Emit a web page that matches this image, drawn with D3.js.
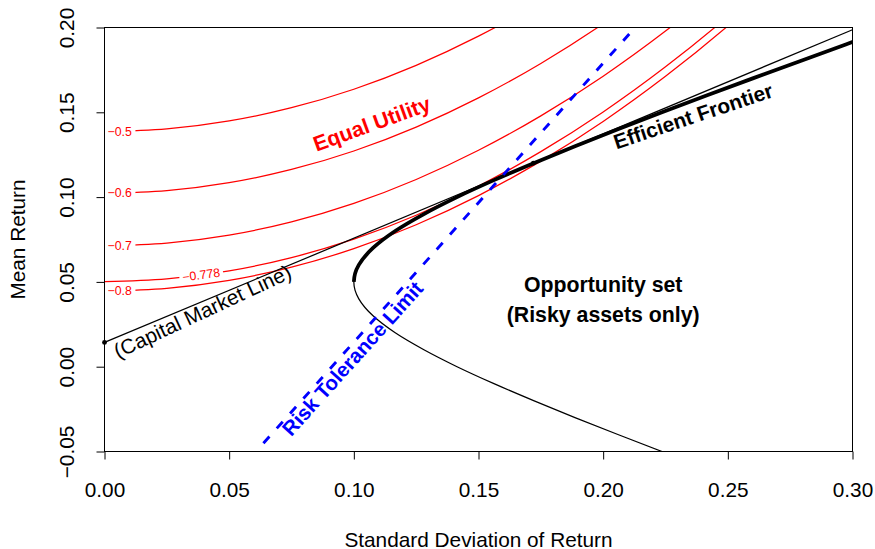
<!DOCTYPE html>
<html><head><meta charset="utf-8">
<script src="https://cdn.jsdelivr.net/npm/d3@7"></script>
<style>
html,body{margin:0;padding:0;background:#fff;}
svg{display:block;font-family:"Liberation Sans",Arial,Helvetica,sans-serif;}
</style></head><body>
<svg id="chart" width="875" height="549"></svg>
<script>
// ---------------- data ----------------
const xTicks = [0, 0.05, 0.10, 0.15, 0.20, 0.25, 0.30];
const yTicks = [-0.05, 0, 0.05, 0.10, 0.15, 0.20];

// boundary of the opportunity set (risky assets only)
const frontierMean = [-0.06,-0.05,-0.04,-0.03,-0.02,-0.01,0,0.01,0.02,0.03,0.04,0.045,0.05,0.055,0.06,0.07,0.08,0.09,0.10,0.11,0.12,0.13,0.14,0.15,0.16,0.17,0.18,0.19,0.20];
const frontierSD   = [0.2417,0.2236,0.2059,0.1887,0.1721,0.1562,0.1414,0.1281,0.1166,0.1077,0.1020,0.1005,0.1000,0.1005,0.1020,0.1077,0.1166,0.1281,0.1414,0.1562,0.1721,0.1887,0.2059,0.2236,0.2417,0.2600,0.2786,0.2973,0.3162];
const efficientStartMean = 0.05;

// equal-utility curves
const utilityLevels = ["\u22120.5", "\u22120.6", "\u22120.7", "\u22120.778", "\u22120.8"];
const utilitySD  = [0, 0.025, 0.05, 0.075, 0.10, 0.125, 0.15, 0.175, 0.20, 0.225, 0.25, 0.275];
const utilM050   = [0.1386,0.1402,0.1449,0.1527,0.1636,0.1777,0.1949,0.2152,0.2386,0.2652,0.2949,0.3277];
const utilM060   = [0.1022,0.1038,0.1085,0.1163,0.1272,0.1413,0.1585,0.1788,0.2022,0.2288,0.2585,0.2913];
const utilM070   = [0.0713,0.0729,0.0776,0.0854,0.0963,0.1104,0.1276,0.1479,0.1713,0.1979,0.2276,0.2604];
const utilM0778  = [0.0502,0.0518,0.0565,0.0643,0.0752,0.0893,0.1065,0.1268,0.1502,0.1768,0.2065,0.2393];
const utilM080   = [0.0446,0.0462,0.0509,0.0587,0.0696,0.0837,0.1009,0.1212,0.1446,0.1712,0.2009,0.2337];

// capital market line
const cmlSD   = [0, 0.30];
const cmlMean = [0.0143, 0.1987];
// marked points: risk-free asset and tangency portfolio
const pointSD   = [0, 0.172];
const pointMean = [0.0143, 0.12];
// risk tolerance limit
const riskSD   = [0.0608, 0.2112];
const riskMean = [-0.05, 0.1974];

// ---------------- drawing ----------------
const W = 875, H = 549;
const FS = 20.8, FSB = 21.3;
const x = d3.scaleLinear().domain([0, 0.3]).range([104.5, 852.5]);
const y = d3.scaleLinear().domain([-0.05, 0.2]).range([451.5, 27.5]);
const svg = d3.select("#chart");
const defs = svg.append("defs");

defs.append("clipPath").attr("id", "plotClip").append("rect")
  .attr("x", x(0)).attr("y", y(0.2))
  .attr("width", x(0.3) - x(0)).attr("height", y(-0.05) - y(0.2));

const utilSeries = [utilM050, utilM060, utilM070, utilM0778, utilM080];
const midLabelIdx = 3;           // the -0.778 curve has its label inside the plot
const midLabelSD = 0.0388;

// mask for the label gaps in the contour lines
const mask = defs.append("mask").attr("id", "gapMask")
  .attr("maskUnits", "userSpaceOnUse").attr("x", 0).attr("y", 0).attr("width", W).attr("height", H);
mask.append("rect").attr("width", W).attr("height", H).attr("fill", "#fff");
utilSeries.forEach((m, i) => {
  if (i === midLabelIdx) {
    const yy = m[0] + (m[1] - m[0]) * (midLabelSD / 0.025) * (midLabelSD / 0.025);
    mask.append("rect")
      .attr("transform", `translate(${x(midLabelSD)},${y(yy)}) rotate(-7.5)`)
      .attr("x", -22).attr("y", -6).attr("width", 44).attr("height", 12).attr("fill", "#000");
  } else {
    mask.append("rect").attr("x", x(0) - 1).attr("y", y(m[0]) - 6)
      .attr("width", x(0.0124) - x(0) + 1).attr("height", 12).attr("fill", "#000");
  }
});

const plot = svg.append("g").attr("clip-path", "url(#plotClip)");

// utility curves
const utilLine = d3.line().x(d => x(d[0])).y(d => y(d[1])).curve(d3.curveMonotoneX);
const utilG = plot.append("g").attr("mask", "url(#gapMask)");
utilSeries.forEach(m => {
  utilG.append("path")
    .attr("d", utilLine(utilitySD.map((s, k) => [s, m[k]])))
    .attr("fill", "none").attr("stroke", "#ff0000").attr("stroke-width", 1.25);
});

// capital market line
plot.append("path")
  .attr("d", d3.line().x(d => x(d[0])).y(d => y(d[1]))(cmlSD.map((s, k) => [s, cmlMean[k]])))
  .attr("fill", "none").attr("stroke", "#000").attr("stroke-width", 1.25);

// opportunity set boundary (thin) and efficient frontier (thick)
const fLine = d3.line().x(d => x(d[0])).y(d => y(d[1])).curve(d3.curveMonotoneY);
const fPts = frontierSD.map((s, k) => [s, frontierMean[k]]);
plot.append("path").attr("d", fLine(fPts))
  .attr("fill", "none").attr("stroke", "#000").attr("stroke-width", 1.25);
plot.append("path").attr("d", fLine(fPts.filter(p => p[1] >= efficientStartMean)))
  .attr("fill", "none").attr("stroke", "#000").attr("stroke-width", 3.75);

// risk tolerance limit
plot.append("path")
  .attr("d", d3.line().x(d => x(d[0])).y(d => y(d[1]))(riskSD.map((s, k) => [s, riskMean[k]])))
  .attr("fill", "none").attr("stroke", "#0000ff").attr("stroke-width", 2.9)
  .attr("stroke-dasharray", "9,11").attr("stroke-dashoffset", 9);

// points
svg.append("g").selectAll("circle").data(pointSD.map((s, k) => [s, pointMean[k]])).join("circle")
  .attr("cx", d => x(d[0])).attr("cy", d => y(d[1])).attr("r", 2.4).attr("fill", "#000");

// contour labels
utilSeries.forEach((m, i) => {
  if (i === midLabelIdx) {
    const yy = m[0] + (m[1] - m[0]) * (midLabelSD / 0.025) * (midLabelSD / 0.025);
    svg.append("text")
      .attr("transform", `translate(${x(midLabelSD)},${y(yy)}) rotate(-7.5)`)
      .attr("text-anchor", "middle").attr("dominant-baseline", "central")
      .attr("font-size", 12.3).attr("fill", "#ff0000").text(utilityLevels[i]);
  } else {
    svg.append("text").attr("x", x(0) + 3).attr("y", y(m[0]))
      .attr("dominant-baseline", "central")
      .attr("font-size", 12.3).attr("fill", "#ff0000").text(utilityLevels[i]);
  }
});

// box
svg.append("rect").attr("x", x(0)).attr("y", y(0.2))
  .attr("width", x(0.3) - x(0)).attr("height", y(-0.05) - y(0.2))
  .attr("fill", "none").attr("stroke", "#000").attr("stroke-width", 1);

// axes
const fmt = d3.format(".2f");
const gx = svg.append("g").attr("transform", `translate(0,${y(-0.05)})`)
  .call(d3.axisBottom(x).tickValues(xTicks).tickFormat(fmt).tickSize(8).tickPadding(23).tickSizeOuter(0));
gx.select(".domain").remove();
gx.attr("font-family", null).attr("font-size", FS);
gx.selectAll(".tick line").attr("stroke", "#000");
gx.selectAll(".tick text").attr("fill", "#000");

const gy = svg.append("g").attr("transform", `translate(${x(0)},0)`)
  .call(d3.axisLeft(y).tickValues(yTicks).tickFormat(fmt).tickSize(8).tickSizeOuter(0));
gy.select(".domain").remove();
gy.attr("font-family", null).attr("font-size", FS);
gy.selectAll(".tick line").attr("stroke", "#000");
gy.selectAll(".tick text").attr("fill", "#000")
  .attr("transform", "rotate(-90)").attr("x", 0).attr("y", -30.5).attr("dy", null)
  .attr("text-anchor", "middle");

// axis titles
svg.append("text").attr("x", (x(0) + x(0.3)) / 2).attr("y", 546.5)
  .attr("text-anchor", "middle").attr("font-size", FS).text("Standard Deviation of Return");
svg.append("text").attr("transform", `translate(25,${(y(-0.05) + y(0.2)) / 2}) rotate(-90)`)
  .attr("text-anchor", "middle").attr("font-size", FS).text("Mean Return");

// annotations
function note(sd, mean, angle, txt, opts) {
  return svg.append("text")
    .attr("transform", `translate(${x(sd)},${y(mean)}) rotate(${angle})`)
    .attr("text-anchor", "middle").attr("font-size", opts.size || (opts.bold ? FSB : FS))
    .attr("font-weight", opts.bold ? "bold" : "normal")
    .attr("fill", opts.color || "#000").text(txt);
}
note(0.1082, 0.1391, -20, "Equal Utility", {bold: true, color: "#ff0000"});
note(0.2370, 0.1437, -18.5, "Efficient Frontier", {bold: true, size: 20.8});
note(0.0405, 0.0287, -25, "(Capital Market Line)", {bold: false});
note(0.1016, 0.0020, -48, "Risk Tolerance Limit", {bold: true, color: "#0000ff", size: 20.5});
note(0.2, 0.0442, 0, "Opportunity set", {bold: true});
note(0.2, 0.0261, 0, "(Risky assets only)", {bold: true});
</script>
</body></html>
